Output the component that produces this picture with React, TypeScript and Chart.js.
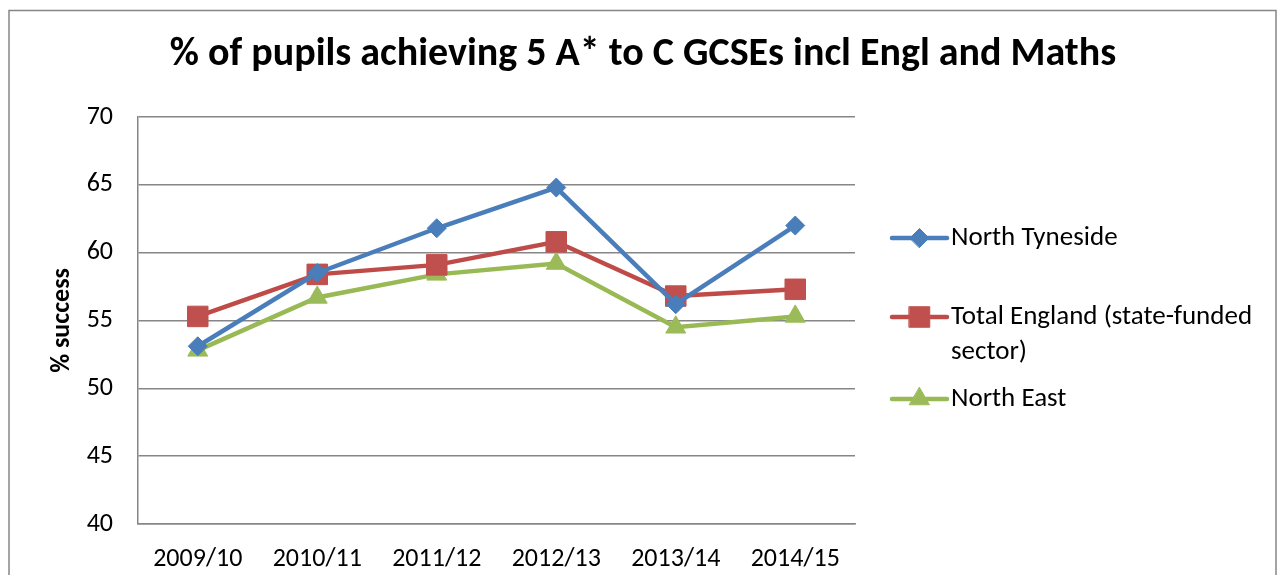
import React, { useEffect, useRef } from 'react';
import { Chart, registerables } from 'chart.js';

Chart.register(...registerables);

const TITLE = '% of pupils achieving 5 A* to C GCSEs incl Engl and Maths';
const Y_TITLE = '% success';
const CATEGORIES = ['2009/10', '2010/11', '2011/12', '2012/13', '2013/14', '2014/15'];
const NORTH_TYNESIDE = [53.1, 58.5, 61.8, 64.8, 56.2, 62.0];
const TOTAL_ENGLAND = [55.3, 58.4, 59.1, 60.8, 56.8, 57.3];
const NORTH_EAST = [52.8, 56.7, 58.4, 59.2, 54.5, 55.3];
const SERIES_NAMES = ['North Tyneside', 'Total England (state-funded sector)', 'North East'];
const Y_MIN = 40;
const Y_MAX = 70;
const Y_STEP = 5;

const FONT = 'Carlito, Calibri, Lato, "Open Sans", sans-serif';
const GRID = '#868686';

const STYLES = [
  { line: '#4A7EBB', fill: '#4A7EBB', point: 'rectRot', radius: 9.5 },
  { line: '#BE4B48', fill: '#C0504D', point: 'rect', radius: 14.5 },
  { line: '#98B954', fill: '#9BBB59', point: 'triangle', radius: 11.5 },
];

// legend entry vertical centres (first line)
const LEGEND_Y = [238, 317, 399];
const LEGEND_LINE_X0 = 892;
const LEGEND_LINE_X1 = 947;
const LEGEND_TEXT_X = 951;
const LEGEND_MAX_W = 310;

function wrap(ctx: CanvasRenderingContext2D, text: string, maxW: number): string[] {
  const words = text.split(' ');
  const lines: string[] = [];
  let cur = '';
  for (const w of words) {
    const t = cur ? cur + ' ' + w : w;
    if (ctx.measureText(t).width > maxW && cur) {
      lines.push(cur);
      cur = w;
    } else cur = t;
  }
  if (cur) lines.push(cur);
  return lines;
}

function drawMarker(ctx: CanvasRenderingContext2D, style: string, x: number, y: number, r: number) {
  ctx.beginPath();
  if (style === 'rect') {
    const s = Math.SQRT1_2 * r;
    ctx.rect(x - s, y - s, 2 * s, 2 * s);
  } else if (style === 'rectRot') {
    ctx.moveTo(x - r, y);
    ctx.lineTo(x, y - r);
    ctx.lineTo(x + r, y);
    ctx.lineTo(x, y + r);
    ctx.closePath();
  } else {
    const a = (2 * Math.PI) / 3;
    ctx.moveTo(x, y - r);
    ctx.lineTo(x + Math.sin(a) * r, y - Math.cos(a) * r);
    ctx.lineTo(x + Math.sin(2 * a) * r, y - Math.cos(2 * a) * r);
    ctx.closePath();
  }
  ctx.fill();
  ctx.stroke();
}

const decorPlugin = {
  id: 'decor',
  beforeDraw(chart: any) {
    const ctx = chart.ctx as CanvasRenderingContext2D;
    ctx.save();
    ctx.fillStyle = '#ffffff';
    ctx.fillRect(0, 0, chart.width, chart.height);
    ctx.strokeStyle = GRID;
    ctx.lineWidth = 1.5;
    ctx.strokeRect(9, 10.5, 1267, 600);
    ctx.restore();
  },
  afterDraw(chart: any) {
    const ctx = chart.ctx as CanvasRenderingContext2D;
    ctx.save();
    ctx.fillStyle = '#000';
    ctx.font = `bold 40px ${FONT}`;
    ctx.textAlign = 'center';
    ctx.textBaseline = 'middle';
    ctx.fillText(TITLE, 643, 55);

    ctx.font = `27px ${FONT}`;
    ctx.textAlign = 'left';
    SERIES_NAMES.forEach((name, i) => {
      const s = STYLES[i];
      const y = LEGEND_Y[i];
      ctx.strokeStyle = s.line;
      ctx.lineWidth = 4.5;
      ctx.lineCap = 'round';
      ctx.beginPath();
      ctx.moveTo(LEGEND_LINE_X0, y);
      ctx.lineTo(LEGEND_LINE_X1, y);
      ctx.stroke();
      ctx.fillStyle = s.fill;
      ctx.lineWidth = 1;
      ctx.strokeStyle = s.fill;
      drawMarker(ctx, s.point, (LEGEND_LINE_X0 + LEGEND_LINE_X1) / 2, y, s.radius);
      ctx.fillStyle = '#000';
      const lines = wrap(ctx, name, LEGEND_MAX_W);
      lines.forEach((ln, k) => ctx.fillText(ln, LEGEND_TEXT_X, y + k * 35));
    });
    ctx.restore();
  },
};

export default function App() {
  const ref = useRef<HTMLCanvasElement | null>(null);
  useEffect(() => {
    document.body.style.margin = '0';
    document.body.style.overflow = 'hidden';
    const seriesData = [NORTH_TYNESIDE, TOTAL_ENGLAND, NORTH_EAST];
    const chart = new Chart(ref.current!, {
      type: 'line',
      data: {
        labels: CATEGORIES,
        datasets: seriesData.map((d, i) => ({
          label: SERIES_NAMES[i],
          data: d,
          borderColor: STYLES[i].line,
          backgroundColor: STYLES[i].fill,
          pointBackgroundColor: STYLES[i].fill,
          pointBorderColor: STYLES[i].fill,
          pointBorderWidth: 1,
          pointStyle: STYLES[i].point as any,
          pointRadius: STYLES[i].radius,
          borderWidth: 4.5,
          tension: 0,
          fill: false,
        })),
      },
      options: {
        responsive: false,
        animation: false,
        layout: { padding: { top: 117, right: 1279 - 855, left: 0, bottom: 0 } },
        plugins: {
          legend: { display: false },
          title: { display: false },
          tooltip: { enabled: false },
        },
        scales: {
          x: {
            offset: true,
            grid: { display: false, drawTicks: false },
            border: { display: true, color: GRID, width: 1.5 },
            ticks: { color: '#000', font: { family: FONT, size: 26 }, padding: 20, maxRotation: 0 },
            afterFit: (s: any) => { s.height = 575 - 524; },
          },
          y: {
            min: Y_MIN,
            max: Y_MAX,
            ticks: { stepSize: Y_STEP, color: '#000', font: { family: FONT, size: 26 }, padding: 25 },
            grid: { color: GRID, lineWidth: 1.5, drawTicks: false },
            border: { display: true, color: GRID, width: 1.5 },
            title: {
              display: true,
              text: Y_TITLE,
              color: '#000',
              font: { family: FONT, size: 26, weight: 'bold' },
              padding: { top: 47, bottom: 0 },
            },
            afterFit: (s: any) => { s.width = 138; },
          },
        },
      },
      plugins: [decorPlugin],
    });
    return () => chart.destroy();
  }, []);
  return <canvas ref={ref} width={1279} height={575} style={{ display: 'block' }} />;
}
